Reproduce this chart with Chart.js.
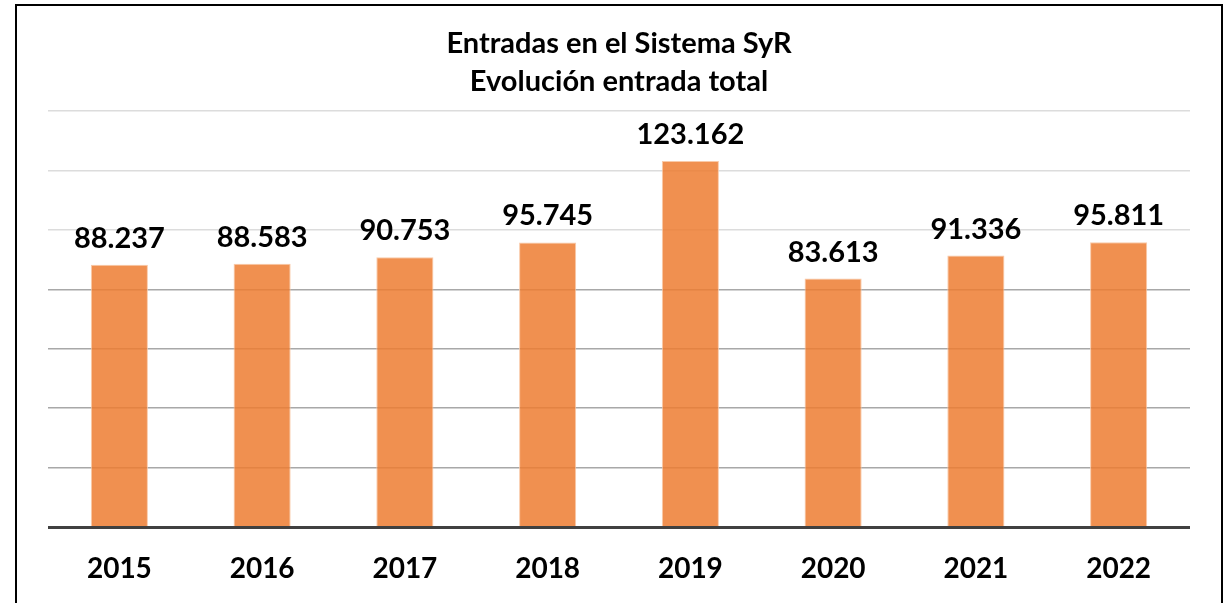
<!DOCTYPE html>
<html>
<head>
<meta charset="utf-8">
<script src="https://cdn.jsdelivr.net/npm/chart.js@4.4.1/dist/chart.umd.min.js"></script>
<style>
  html, body { margin: 0; padding: 0; background: #ffffff; }
  #wrap { position: relative; width: 1225px; height: 603px; }
</style>
</head>
<body>
<div id="wrap"><canvas id="c" width="1225" height="603"></canvas></div>
<script>
const categories = ['2015', '2016', '2017', '2018', '2019', '2020', '2021', '2022'];
const values = [88237, 88583, 90753, 95745, 123162, 83613, 91336, 95811];
const titleLines = ['Entradas en el Sistema SyR', 'Evolución entrada total'];
const yMin = 0, yMax = 140000, yStep = 20000;

const FONT = 'Lato, "Open Sans", sans-serif';

function fmt(v) {
  return String(v).replace(/\B(?=(\d{3})+(?!\d))/g, '.');
}

const frame = {
  id: 'frame',
  afterDraw(chart) {
    const ctx = chart.ctx;
    ctx.save();
    ctx.strokeStyle = '#000000';
    ctx.lineWidth = 2;
    ctx.strokeRect(16, 5, 1206, 700);
    ctx.restore();
  }
};

const labels = {
  id: 'valueLabels',
  afterDatasetsDraw(chart) {
    const ctx = chart.ctx;
    const meta = chart.getDatasetMeta(0);
    ctx.save();
    ctx.font = 'bold 29px ' + FONT;
    ctx.fillStyle = '#000000';
    ctx.textAlign = 'center';
    ctx.textBaseline = 'alphabetic';
    meta.data.forEach((bar, i) => {
      ctx.fillText(fmt(values[i]), bar.x, bar.y - 17);
    });
    ctx.restore();
  }
};

const baseline = {
  id: 'baseline',
  afterDatasetsDraw(chart) {
    const ctx = chart.ctx;
    const a = chart.chartArea;
    const y = chart.scales.y.getPixelForValue(0);
    ctx.save();
    ctx.strokeStyle = '#404040';
    ctx.lineWidth = 3;
    ctx.beginPath();
    ctx.moveTo(a.left, y + 0.5);
    ctx.lineTo(a.right, y + 0.5);
    ctx.stroke();
    ctx.restore();
  }
};

new Chart(document.getElementById('c'), {
  type: 'bar',
  data: {
    labels: categories,
    datasets: [{
      data: values,
      backgroundColor: 'rgba(237,125,49,0.85)',
      borderColor: 'rgba(248,196,160,0.9)',
      borderWidth: 1,
      categoryPercentage: 0.4,
      barPercentage: 1.0
    }]
  },
  options: {
    responsive: false,
    animation: false,
    devicePixelRatio: 1,
    layout: { padding: { left: 48, right: 35, top: 0, bottom: 0 } },
    plugins: {
      legend: { display: false },
      tooltip: { enabled: false },
      title: {
        display: true,
        text: titleLines,
        color: '#000000',
        font: { family: FONT, size: 29, weight: 'bold', lineHeight: 1.31 },
        padding: { top: 25, bottom: 10 }
      }
    },
    scales: {
      x: {
        grid: { display: false, drawTicks: false },
        border: { display: false },
        afterFit(scale) { scale.height = 76; },
        ticks: {
          color: '#000000',
          font: { family: FONT, size: 28, weight: 'bold' },
          padding: 25
        }
      },
      y: {
        min: yMin,
        max: yMax,
        ticks: { display: false, stepSize: yStep },
        border: { display: false },
        grid: {
          drawTicks: false,
          lineWidth: 1.5,
          color: (c) => (c.tick && c.tick.value >= 100000 ? '#dcdcdc' : '#a8a8a8')
        }
      }
    }
  },
  plugins: [frame, labels, baseline]
});
</script>
</body>
</html>
